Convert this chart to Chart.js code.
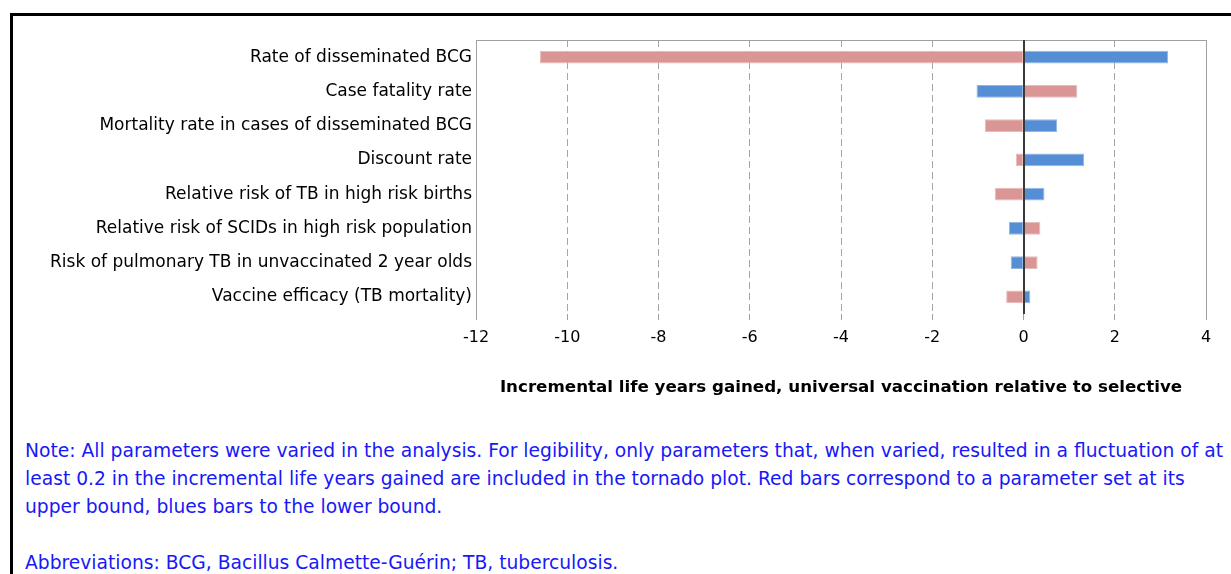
<!DOCTYPE html>
<html>
<head>
<meta charset="utf-8">
<title>Tornado plot – incremental life years gained</title>
<script src="https://cdn.jsdelivr.net/npm/chart.js@4.4.1/dist/chart.umd.min.js"></script>
<style>
  html, body { margin: 0; padding: 0; background: #fff; overflow: hidden; }
  body { width: 1231px; height: 574px; position: relative; }
  .frame {
    position: absolute; left: 10px; top: 13px; width: 1300px; height: 700px;
    border-top: 3px solid #000; border-left: 3px solid #000;
  }
  #chartWrap { position: absolute; left: 0; top: 0; width: 1231px; height: 400px; }
  .note {
    position: absolute; left: 25px; top: 437px; white-space: nowrap;
    font-family: "DejaVu Sans", sans-serif; font-size: 18.7px; line-height: 28px;
    color: #1818f8;
  }
</style>
</head>
<body>
<div class="frame"></div>
<div id="chartWrap"><canvas id="tornado" width="1231" height="400"></canvas></div>
<div class="note">
  Note: All parameters were varied in the analysis. For legibility, only parameters that, when varied, resulted in a fluctuation of at<br>
  least 0.2 in the incremental life years gained are included in the tornado plot. Red bars correspond to a parameter set at its<br>
  upper bound, blues bars to the lower bound.<br>
  <br>
  Abbreviations: BCG, Bacillus Calmette-Guérin; TB, tuberculosis.
</div>
<script>
const parameters = [
    'Rate of disseminated BCG',
    'Case fatality rate',
    'Mortality rate in cases of disseminated BCG',
    'Discount rate',
    'Relative risk of TB in high risk births',
    'Relative risk of SCIDs in high risk population',
    'Risk of pulmonary TB in unvaccinated 2 year olds',
    'Vaccine efficacy (TB mortality)'
];

// red = parameter at its upper bound, blue = lower bound
const upperBound = [-10.6, 1.18, -0.85, -0.17, -0.63, 0.37, 0.31, -0.38];
const lowerBound = [3.17, -1.03, 0.74, 1.33, 0.46, -0.32, -0.28, 0.15];

const xTicks = [-12, -10, -8, -6, -4, -2, 0, 2, 4];
const xTitle = 'Incremental life years gained, universal vaccination relative to selective';

const FONT = '"DejaVu Sans", sans-serif';

// solid dark line at zero drawn over the bars
const zeroLine = {
    id: 'zeroLine',
    afterDatasetsDraw(chart) {
        const { ctx, chartArea, scales } = chart;
        const x = Math.round(scales.x.getPixelForValue(0));
        ctx.save();
        ctx.strokeStyle = '#3a3a3a';
        ctx.lineWidth = 2;
        ctx.beginPath();
        ctx.moveTo(x, chartArea.top);
        ctx.lineTo(x, chartArea.bottom);
        ctx.stroke();
        ctx.restore();
    }
};

const ctx = document.getElementById('tornado').getContext('2d');

new Chart(ctx, {
    type: 'bar',
    data: {
        labels: parameters,
        datasets: [
            {
                label: 'Upper bound',
                data: upperBound,
                backgroundColor: '#d99694',
                borderColor: '#e8bcbb',
                borderWidth: 1,
                borderSkipped: false,
                barPercentage: 0.37,
                categoryPercentage: 1
            },
            {
                label: 'Lower bound',
                data: lowerBound,
                backgroundColor: '#558ed5',
                borderColor: '#93b6e3',
                borderWidth: 1,
                borderSkipped: false,
                barPercentage: 0.37,
                categoryPercentage: 1
            }
        ]
    },
    options: {
        indexAxis: 'y',
        responsive: false,
        animation: false,
        layout: { padding: { left: 0, top: 40, right: 25, bottom: 0 } },
        plugins: {
            legend: { display: false },
            tooltip: { enabled: false }
        },
        scales: {
            x: {
                stacked: true,
                min: -12,
                max: 4,
                afterBuildTicks: (scale) => {
                    scale.ticks = xTicks.map(v => ({ value: v }));
                },
                afterFit: (scale) => { scale.height = 86; },
                border: {
                    display: false,
                    dash: (c) => ([-12, 0, 4].includes(c.tick.value) ? [] : [7, 4])
                },
                grid: {
                    color: (c) => {
                        const v = c.tick.value;
                        if (v === 0) return 'rgba(0,0,0,0)';
                        if (v === -12 || v === 4) return '#a0a0a0';
                        return '#a6a6a6';
                    },
                    lineWidth: 1,
                    tickColor: '#a0a0a0',
                    tickLength: 6
                },
                ticks: {
                    color: '#000',
                    padding: 8,
                    font: { family: FONT, size: 16 }
                },
                title: {
                    display: true,
                    text: xTitle,
                    color: '#000',
                    padding: { top: 0, bottom: 2 },
                    font: { family: FONT, size: 16.7, weight: 'bold' }
                }
            },
            y: {
                stacked: true,
                afterFit: (scale) => { scale.width = 476; },
                border: { display: false },
                grid: {
                    drawTicks: false,
                    color: (c) => (c.index === 0 || c.index === parameters.length ? '#a0a0a0' : 'rgba(0,0,0,0)')
                },
                ticks: {
                    color: '#000',
                    padding: 4,
                    autoSkip: false,
                    font: { family: FONT, size: 17 }
                }
            }
        }
    },
    plugins: [zeroLine]
});
</script>
</body>
</html>
